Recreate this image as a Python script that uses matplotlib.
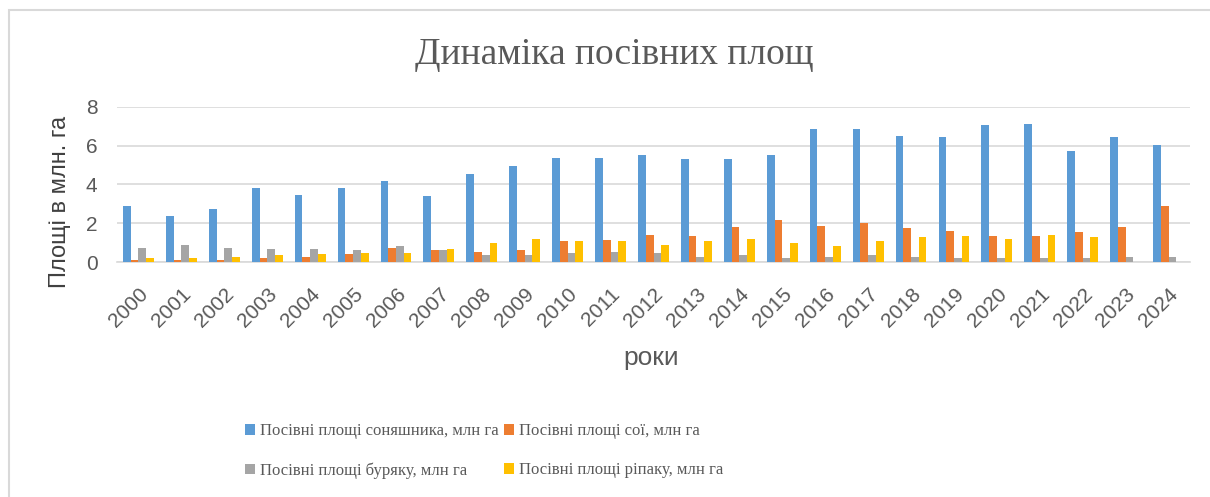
import matplotlib
matplotlib.use("Agg")
import matplotlib.pyplot as plt
import numpy as np
from matplotlib.patches import Rectangle, Patch

years = [str(y) for y in range(2000, 2025)]
sunflower = [2.86, 2.39, 2.72, 3.79, 3.44, 3.79, 4.18, 3.39, 4.51, 4.97, 5.37, 5.37, 5.49,
             5.30, 5.30, 5.49, 6.83, 6.83, 6.50, 6.43, 7.04, 7.11, 5.71, 6.43, 6.04]
soy = [0.09, 0.09, 0.09, 0.21, 0.28, 0.41, 0.74, 0.60, 0.54, 0.60, 1.07, 1.14, 1.41,
       1.33, 1.79, 2.14, 1.86, 2.00, 1.74, 1.60, 1.34, 1.34, 1.53, 1.81, 2.86]
beet = [0.74, 0.86, 0.74, 0.67, 0.67, 0.60, 0.81, 0.60, 0.34, 0.34, 0.47, 0.54, 0.47,
        0.28, 0.34, 0.21, 0.28, 0.34, 0.28, 0.21, 0.21, 0.21, 0.21, 0.28, 0.28]
rapeseed = [0.21, 0.21, 0.28, 0.34, 0.41, 0.48, 0.48, 0.67, 1.00, 1.21, 1.07, 1.07, 0.86,
            1.07, 1.21, 1.00, 0.81, 1.07, 1.27, 1.34, 1.21, 1.41, 1.27, 0.0, 0.0]

series_names = ["Посівні площі соняшника, млн га", "Посівні площі сої, млн га",
                "Посівні площі буряку, млн га", "Посівні площі ріпаку, млн га"]
colors = ["#5B9BD5", "#ED7D31", "#A5A5A5", "#FFC000"]
data = [sunflower, soy, beet, rapeseed]

fig = plt.figure(figsize=(12.10, 4.97), dpi=100)
ax = fig.add_axes([0.0967, 0.4728, 0.8868, 0.3125])

x = np.arange(len(years))
w = 0.18
for i, (vals, c) in enumerate(zip(data, colors)):
    ax.bar(x + (i - 1.5) * w, vals, width=w, color=c, edgecolor="none", zorder=3)

ax.set_xlim(-0.5, len(years) - 0.5)
ax.set_ylim(0, 8)
ax.set_yticks([0, 2, 4, 6, 8])
ax.grid(axis="y", color="#D9D9D9", linewidth=1.2, zorder=0)
for s in ["top", "right", "left"]:
    ax.spines[s].set_visible(False)
ax.spines["bottom"].set_color("#D9D9D9")
ax.spines["bottom"].set_linewidth(1.2)
ax.tick_params(axis="both", length=0, colors="#595959")
ax.tick_params(axis="y", pad=14, labelsize=15)
ax.tick_params(axis="x", pad=16, labelsize=15)
ax.set_xticks(x)
ax.set_xticklabels(years, rotation=45, ha="right", va="top", rotation_mode="anchor",
                   fontfamily="Liberation Sans")
for lbl in ax.get_yticklabels():
    lbl.set_fontfamily("Liberation Sans")

fig.text(60 / 1210, 1 - 202 / 497, "Площі в млн. га", fontsize=17, color="#404040",
         fontfamily="Liberation Sans", rotation=90, ha="center", va="center")
fig.text(651 / 1210, 1 - 358 / 497, "роки", fontsize=19, color="#595959",
         fontfamily="Liberation Sans", ha="center", va="center")
fig.text(614 / 1210, 1 - 55 / 497, "Динаміка посівних площ", fontsize=27, color="#595959",
         fontfamily="Liberation Serif", ha="center", va="center")

order = [0, 2, 1, 3]
handles = [Patch(facecolor=colors[i], edgecolor="none") for i in order]
labels = [series_names[i] for i in order]
leg = fig.legend(handles, labels, ncol=2, loc="center", bbox_to_anchor=(484 / 1210, 1 - 451 / 497),
                 frameon=False, prop={"family": "Liberation Serif", "size": 12},
                 handlelength=0.6, handleheight=0.6, handletextpad=0.3,
                 columnspacing=0.3, labelspacing=1.4)
for t in leg.get_texts():
    t.set_color("#595959")

fig.patches.append(Rectangle((9 / 1210, -0.1), 1.2, 1 - 10 / 497 + 0.1, transform=fig.transFigure,
                             fill=False, edgecolor="#D9D9D9", linewidth=1.5))

fig.savefig("out.png", dpi=100)
